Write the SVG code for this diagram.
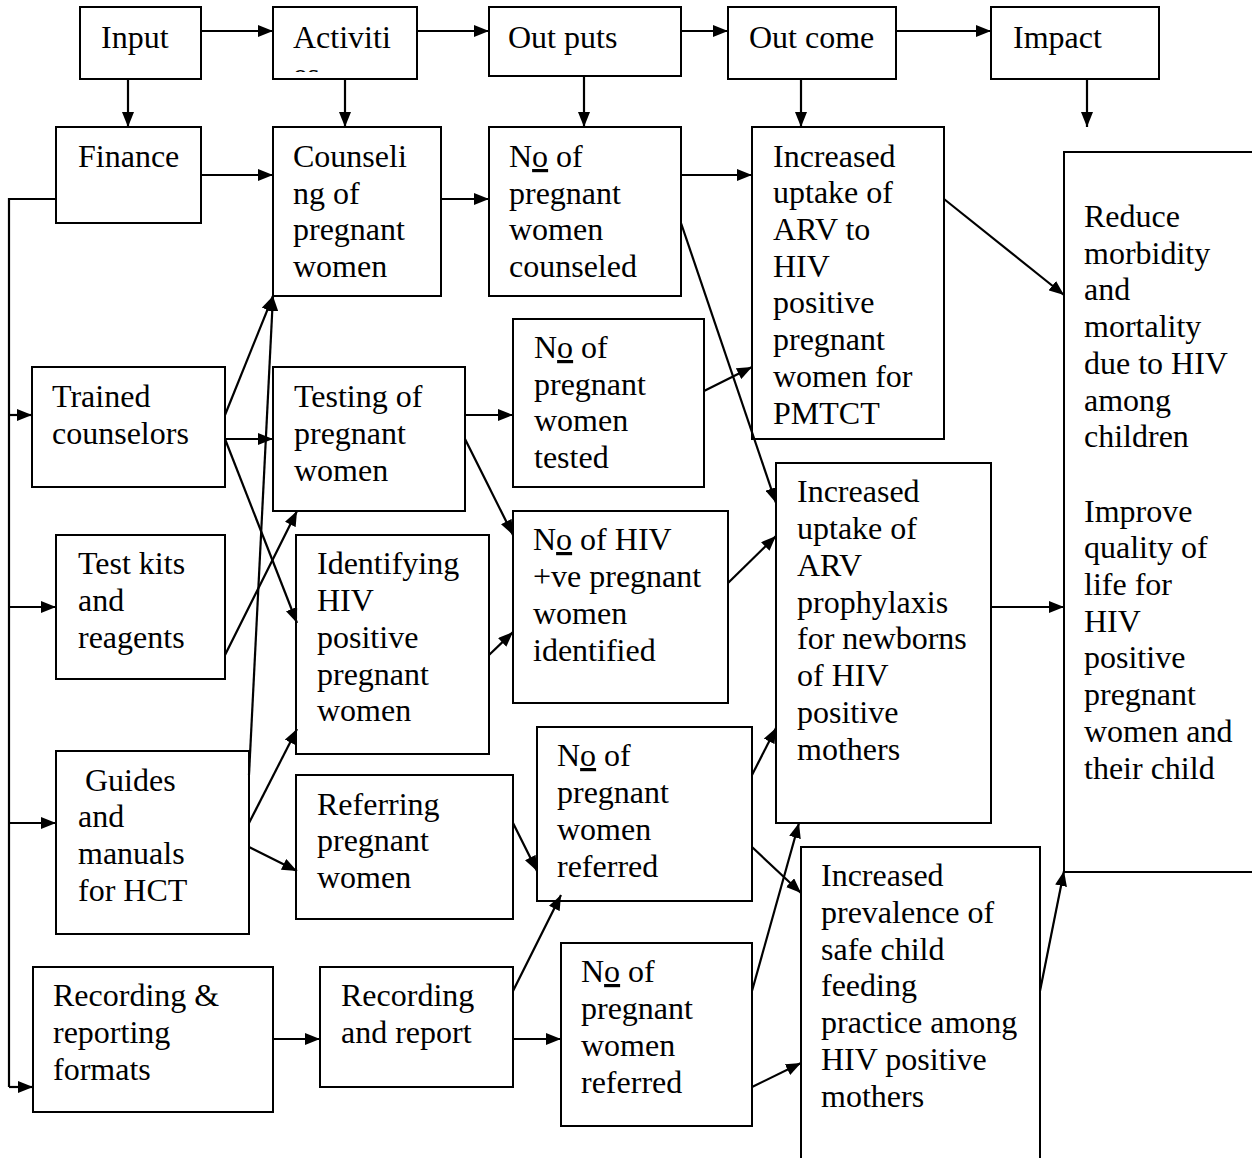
<svg xmlns="http://www.w3.org/2000/svg" width="1252" height="1158" viewBox="0 0 1252 1158">
<style>
rect.b{fill:#fff;stroke:#000;stroke-width:2}
text{font-family:"Liberation Serif","Times New Roman",serif;font-size:32px;fill:#000}
.u{text-decoration:underline}
line,polyline{stroke:#000;stroke-width:2.2;fill:none}
</style>
<defs>
<marker id="ah" markerUnits="userSpaceOnUse" markerWidth="15" markerHeight="12" refX="15" refY="6" orient="auto">
<path d="M0,0 L15,6 L0,12 z" fill="#000"/>
</marker>
<clipPath id="clipAct"><rect x="273" y="7" width="144" height="65"/></clipPath>
</defs>
<rect width="1252" height="1158" fill="#fff"/>

<g id="input"><rect class="b" x="80" y="7" width="121" height="72"/><text x="101" y="48">Input</text></g>
<g id="activities"><rect class="b" x="273" y="7" width="144" height="72"/><text x="293" y="48">Activiti</text><text x="293" y="85" clip-path="url(#clipAct)">es</text></g>
<g id="outputs"><rect class="b" x="489" y="7" width="192" height="69"/><text x="508" y="48">Out puts</text></g>
<g id="outcome"><rect class="b" x="728" y="7" width="168" height="72"/><text x="749" y="48">Out come</text></g>
<g id="impact"><rect class="b" x="991" y="7" width="168" height="72"/><text x="1013" y="48">Impact</text></g>

<g id="finance"><rect class="b" x="56" y="127" width="145" height="96"/><text x="78" y="167">Finance</text></g>
<g id="counseling"><rect class="b" x="273" y="127" width="168" height="169"/><text x="293" y="167">Counseli</text><text x="293" y="204">ng of</text><text x="293" y="240">pregnant</text><text x="293" y="277">women</text></g>
<g id="no-counseled"><rect class="b" x="489" y="127" width="192" height="169"/><text x="509" y="167">N<tspan class="u">o</tspan> of</text><text x="509" y="204">pregnant</text><text x="509" y="240">women</text><text x="509" y="277">counseled</text></g>
<g id="uptake-arv"><rect class="b" x="752" y="127" width="192" height="312"/><text x="773" y="167">Increased</text><text x="773" y="203">uptake of</text><text x="773" y="240">ARV to</text><text x="773" y="277">HIV</text><text x="773" y="313">positive</text><text x="773" y="350">pregnant</text><text x="773" y="387">women for</text><text x="773" y="424">PMTCT</text></g>
<g id="impact-box"><rect class="b" x="1064" y="152" width="200" height="720"/><text x="1084" y="227">Reduce</text><text x="1084" y="264">morbidity</text><text x="1084" y="300">and</text><text x="1084" y="337">mortality</text><text x="1084" y="374">due to HIV</text><text x="1084" y="411">among</text><text x="1084" y="447">children</text><text x="1084" y="522">Improve</text><text x="1084" y="558">quality of</text><text x="1084" y="595">life for</text><text x="1084" y="632">HIV</text><text x="1084" y="668">positive</text><text x="1084" y="705">pregnant</text><text x="1084" y="742">women and</text><text x="1084" y="779">their child</text></g>

<g id="trained"><rect class="b" x="32" y="367" width="193" height="120"/><text x="52" y="407">Trained</text><text x="52" y="444">counselors</text></g>
<g id="testing"><rect class="b" x="273" y="367" width="192" height="144"/><text x="294" y="407">Testing of</text><text x="294" y="444">pregnant</text><text x="294" y="481">women</text></g>
<g id="no-tested"><rect class="b" x="513" y="319" width="191" height="168"/><text x="534" y="358">N<tspan class="u">o</tspan> of</text><text x="534" y="395">pregnant</text><text x="534" y="431">women</text><text x="534" y="468">tested</text></g>
<g id="testkits"><rect class="b" x="56" y="535" width="169" height="144"/><text x="78" y="574">Test kits</text><text x="78" y="611">and</text><text x="78" y="648">reagents</text></g>
<g id="identifying"><rect class="b" x="296" y="535" width="193" height="219"/><text x="317" y="574">Identifying</text><text x="317" y="611">HIV</text><text x="317" y="648">positive</text><text x="317" y="685">pregnant</text><text x="317" y="721">women</text></g>
<g id="no-identified"><rect class="b" x="513" y="511" width="215" height="192"/><text x="533" y="550">N<tspan class="u">o</tspan> of HIV</text><text x="533" y="587">+ve pregnant</text><text x="533" y="624">women</text><text x="533" y="661">identified</text></g>
<g id="prophylaxis"><rect class="b" x="776" y="463" width="215" height="360"/><text x="797" y="502">Increased</text><text x="797" y="539">uptake of</text><text x="797" y="576">ARV</text><text x="797" y="613">prophylaxis</text><text x="797" y="649">for newborns</text><text x="797" y="686">of HIV</text><text x="797" y="723">positive</text><text x="797" y="760">mothers</text></g>

<g id="guides"><rect class="b" x="56" y="751" width="193" height="183"/><text x="85" y="791">Guides</text><text x="78" y="827">and</text><text x="78" y="864">manuals</text><text x="78" y="901">for HCT</text></g>
<g id="referring"><rect class="b" x="296" y="775" width="217" height="144"/><text x="317" y="815">Referring</text><text x="317" y="851">pregnant</text><text x="317" y="888">women</text></g>
<g id="no-referred-1"><rect class="b" x="537" y="727" width="215" height="174"/><text x="557" y="766">N<tspan class="u">o</tspan> of</text><text x="557" y="803">pregnant</text><text x="557" y="840">women</text><text x="557" y="877">referred</text></g>
<g id="prevalence"><rect class="b" x="801" y="847" width="239" height="330"/><text x="821" y="886">Increased</text><text x="821" y="923">prevalence of</text><text x="821" y="960">safe child</text><text x="821" y="996">feeding</text><text x="821" y="1033">practice among</text><text x="821" y="1070">HIV positive</text><text x="821" y="1107">mothers</text></g>
<g id="rr-formats"><rect class="b" x="33" y="967" width="240" height="145"/><text x="53" y="1006">Recording &amp;</text><text x="53" y="1043">reporting</text><text x="53" y="1080">formats</text></g>
<g id="recording"><rect class="b" x="320" y="967" width="193" height="120"/><text x="341" y="1006">Recording</text><text x="341" y="1043">and report</text></g>
<g id="no-referred-2"><rect class="b" x="561" y="943" width="191" height="183"/><text x="581" y="982">N<tspan class="u">o</tspan> of</text><text x="581" y="1019">pregnant</text><text x="581" y="1056">women</text><text x="581" y="1093">referred</text></g>

<g id="connectors">
<line x1="201" y1="31" x2="273" y2="31" marker-end="url(#ah)"/>
<line x1="417" y1="31" x2="489" y2="31" marker-end="url(#ah)"/>
<line x1="681" y1="31" x2="728" y2="31" marker-end="url(#ah)"/>
<line x1="896" y1="31" x2="991" y2="31" marker-end="url(#ah)"/>
<line x1="128" y1="79" x2="128" y2="127" marker-end="url(#ah)"/>
<line x1="345" y1="79" x2="345" y2="127" marker-end="url(#ah)"/>
<line x1="584" y1="77" x2="584" y2="127" marker-end="url(#ah)"/>
<line x1="801" y1="79" x2="801" y2="127" marker-end="url(#ah)"/>
<line x1="1087" y1="79" x2="1087" y2="127" marker-end="url(#ah)"/>
<line x1="201" y1="175" x2="273" y2="175" marker-end="url(#ah)"/>
<line x1="441" y1="199" x2="489" y2="199" marker-end="url(#ah)"/>
<line x1="681" y1="175" x2="752" y2="175" marker-end="url(#ah)"/>
<line x1="681" y1="223" x2="776" y2="503" marker-end="url(#ah)"/>
<line x1="944" y1="199" x2="1064" y2="295" marker-end="url(#ah)"/>
<polyline points="56,199 9,199 9,1087"/>
<line x1="9" y1="415" x2="32" y2="415" marker-end="url(#ah)"/>
<line x1="9" y1="607" x2="56" y2="607" marker-end="url(#ah)"/>
<line x1="9" y1="823" x2="56" y2="823" marker-end="url(#ah)"/>
<line x1="9" y1="1087" x2="33" y2="1087" marker-end="url(#ah)"/>
<line x1="225" y1="415" x2="273" y2="296" marker-end="url(#ah)"/>
<line x1="225" y1="439" x2="273" y2="439" marker-end="url(#ah)"/>
<line x1="225" y1="439" x2="297" y2="623" marker-end="url(#ah)"/>
<line x1="225" y1="655" x2="297" y2="511" marker-end="url(#ah)"/>
<line x1="249" y1="775" x2="273" y2="296" marker-end="url(#ah)"/>
<line x1="249" y1="823" x2="297" y2="729" marker-end="url(#ah)"/>
<line x1="249" y1="847" x2="297" y2="871" marker-end="url(#ah)"/>
<line x1="465" y1="415" x2="513" y2="415" marker-end="url(#ah)"/>
<line x1="465" y1="439" x2="513" y2="535" marker-end="url(#ah)"/>
<line x1="489" y1="655" x2="513" y2="632" marker-end="url(#ah)"/>
<line x1="704" y1="391" x2="752" y2="367" marker-end="url(#ah)"/>
<line x1="728" y1="583" x2="776" y2="536" marker-end="url(#ah)"/>
<line x1="991" y1="607" x2="1064" y2="607" marker-end="url(#ah)"/>
<line x1="513" y1="823" x2="537" y2="871" marker-end="url(#ah)"/>
<line x1="273" y1="1039" x2="320" y2="1039" marker-end="url(#ah)"/>
<line x1="513" y1="991" x2="561" y2="895" marker-end="url(#ah)"/>
<line x1="513" y1="1039" x2="561" y2="1039" marker-end="url(#ah)"/>
<line x1="752" y1="775" x2="776" y2="728" marker-end="url(#ah)"/>
<line x1="752" y1="847" x2="801" y2="893" marker-end="url(#ah)"/>
<line x1="752" y1="991" x2="799" y2="823" marker-end="url(#ah)"/>
<line x1="752" y1="1087" x2="801" y2="1063" marker-end="url(#ah)"/>
<line x1="1040" y1="991" x2="1064" y2="871" marker-end="url(#ah)"/>
</g>
</svg>
